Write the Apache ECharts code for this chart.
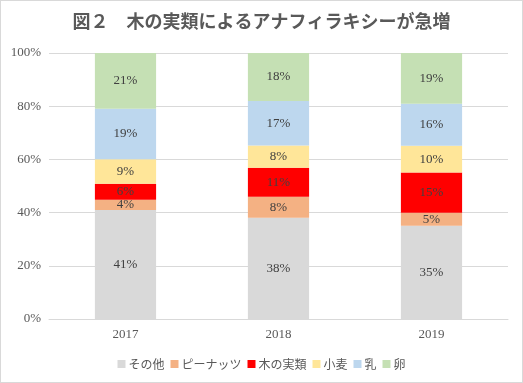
<!DOCTYPE html>
<html><head><meta charset="utf-8">
<script src="https://cdn.jsdelivr.net/npm/echarts@6/dist/echarts.min.js"></script>
<style>html,body{margin:0;padding:0;background:#fff}#c{width:523px;height:383px;box-sizing:border-box;border:1px solid #d9d9d9}</style>
</head><body><div id="c"></div>
<script>
const categories = ['2017', '2018', '2019'];
const seriesNames = ['その他', 'ピーナッツ', '木の実類', '小麦', '乳', '卵'];
const other   = [41.0, 38.1, 35.1];
const peanut  = [3.8, 7.9, 4.8];
const nuts    = [6.0, 10.9, 15.2];
const wheat   = [9.3, 8.3, 10.0];
const milk    = [18.9, 16.8, 15.8];
const egg     = [21.0, 18.0, 19.1];
const yTicks  = ['0%', '20%', '40%', '60%', '80%', '100%'];
const colors = ['#d9d9d9', '#f4b183', '#ff0000', '#ffe699', '#bdd7ee', '#c5e0b4'];
const values = [other, peanut, nuts, wheat, milk, egg];
const serif = '"Liberation Serif","DejaVu Serif",serif';
const chart = echarts.init(document.getElementById('c'), null, {renderer: 'canvas'});
chart.setOption({
  animation: false,
  title: {text: '図２　木の実類によるアナフィラキシーが急増', left: 'center', top: 6,
    textStyle: {fontFamily: '"Noto Sans CJK JP"', fontWeight: 'bold', fontSize: 18, color: '#595959'}},
  legend: {bottom: 7, left: 'center', itemWidth: 8, itemHeight: 8, itemGap: 6, icon: 'rect',
    textStyle: {fontFamily: '"Noto Sans CJK JP"', fontSize: 12, color: '#595959', padding: [0, 0, 0, -2]},
    data: seriesNames},
  grid: {left: 48, right: 14, top: 52, bottom: 63},
  xAxis: {type: 'category', data: categories,
    axisLine: {lineStyle: {color: '#d9d9d9'}}, axisTick: {show: false},
    axisLabel: {fontFamily: serif, fontSize: 13, color: '#595959', margin: 9}},
  yAxis: {type: 'value', min: 0, max: 100, interval: 20,
    axisLabel: {fontFamily: serif, fontSize: 13, color: '#595959', margin: 8,
      formatter: v => yTicks[Math.round(v / 20)]},
    splitLine: {lineStyle: {color: '#d9d9d9'}}, axisLine: {show: false}, axisTick: {show: false}},
  series: seriesNames.map((n, i) => ({
    name: n, type: 'bar', stack: 'a', data: values[i], barWidth: '40%',
    itemStyle: {color: colors[i]},
    label: {show: true, position: 'inside', fontFamily: serif, fontSize: 13, color: '#404040',
      formatter: p => Math.round(p.value) + '%'}
  }))
});
</script></body></html>
